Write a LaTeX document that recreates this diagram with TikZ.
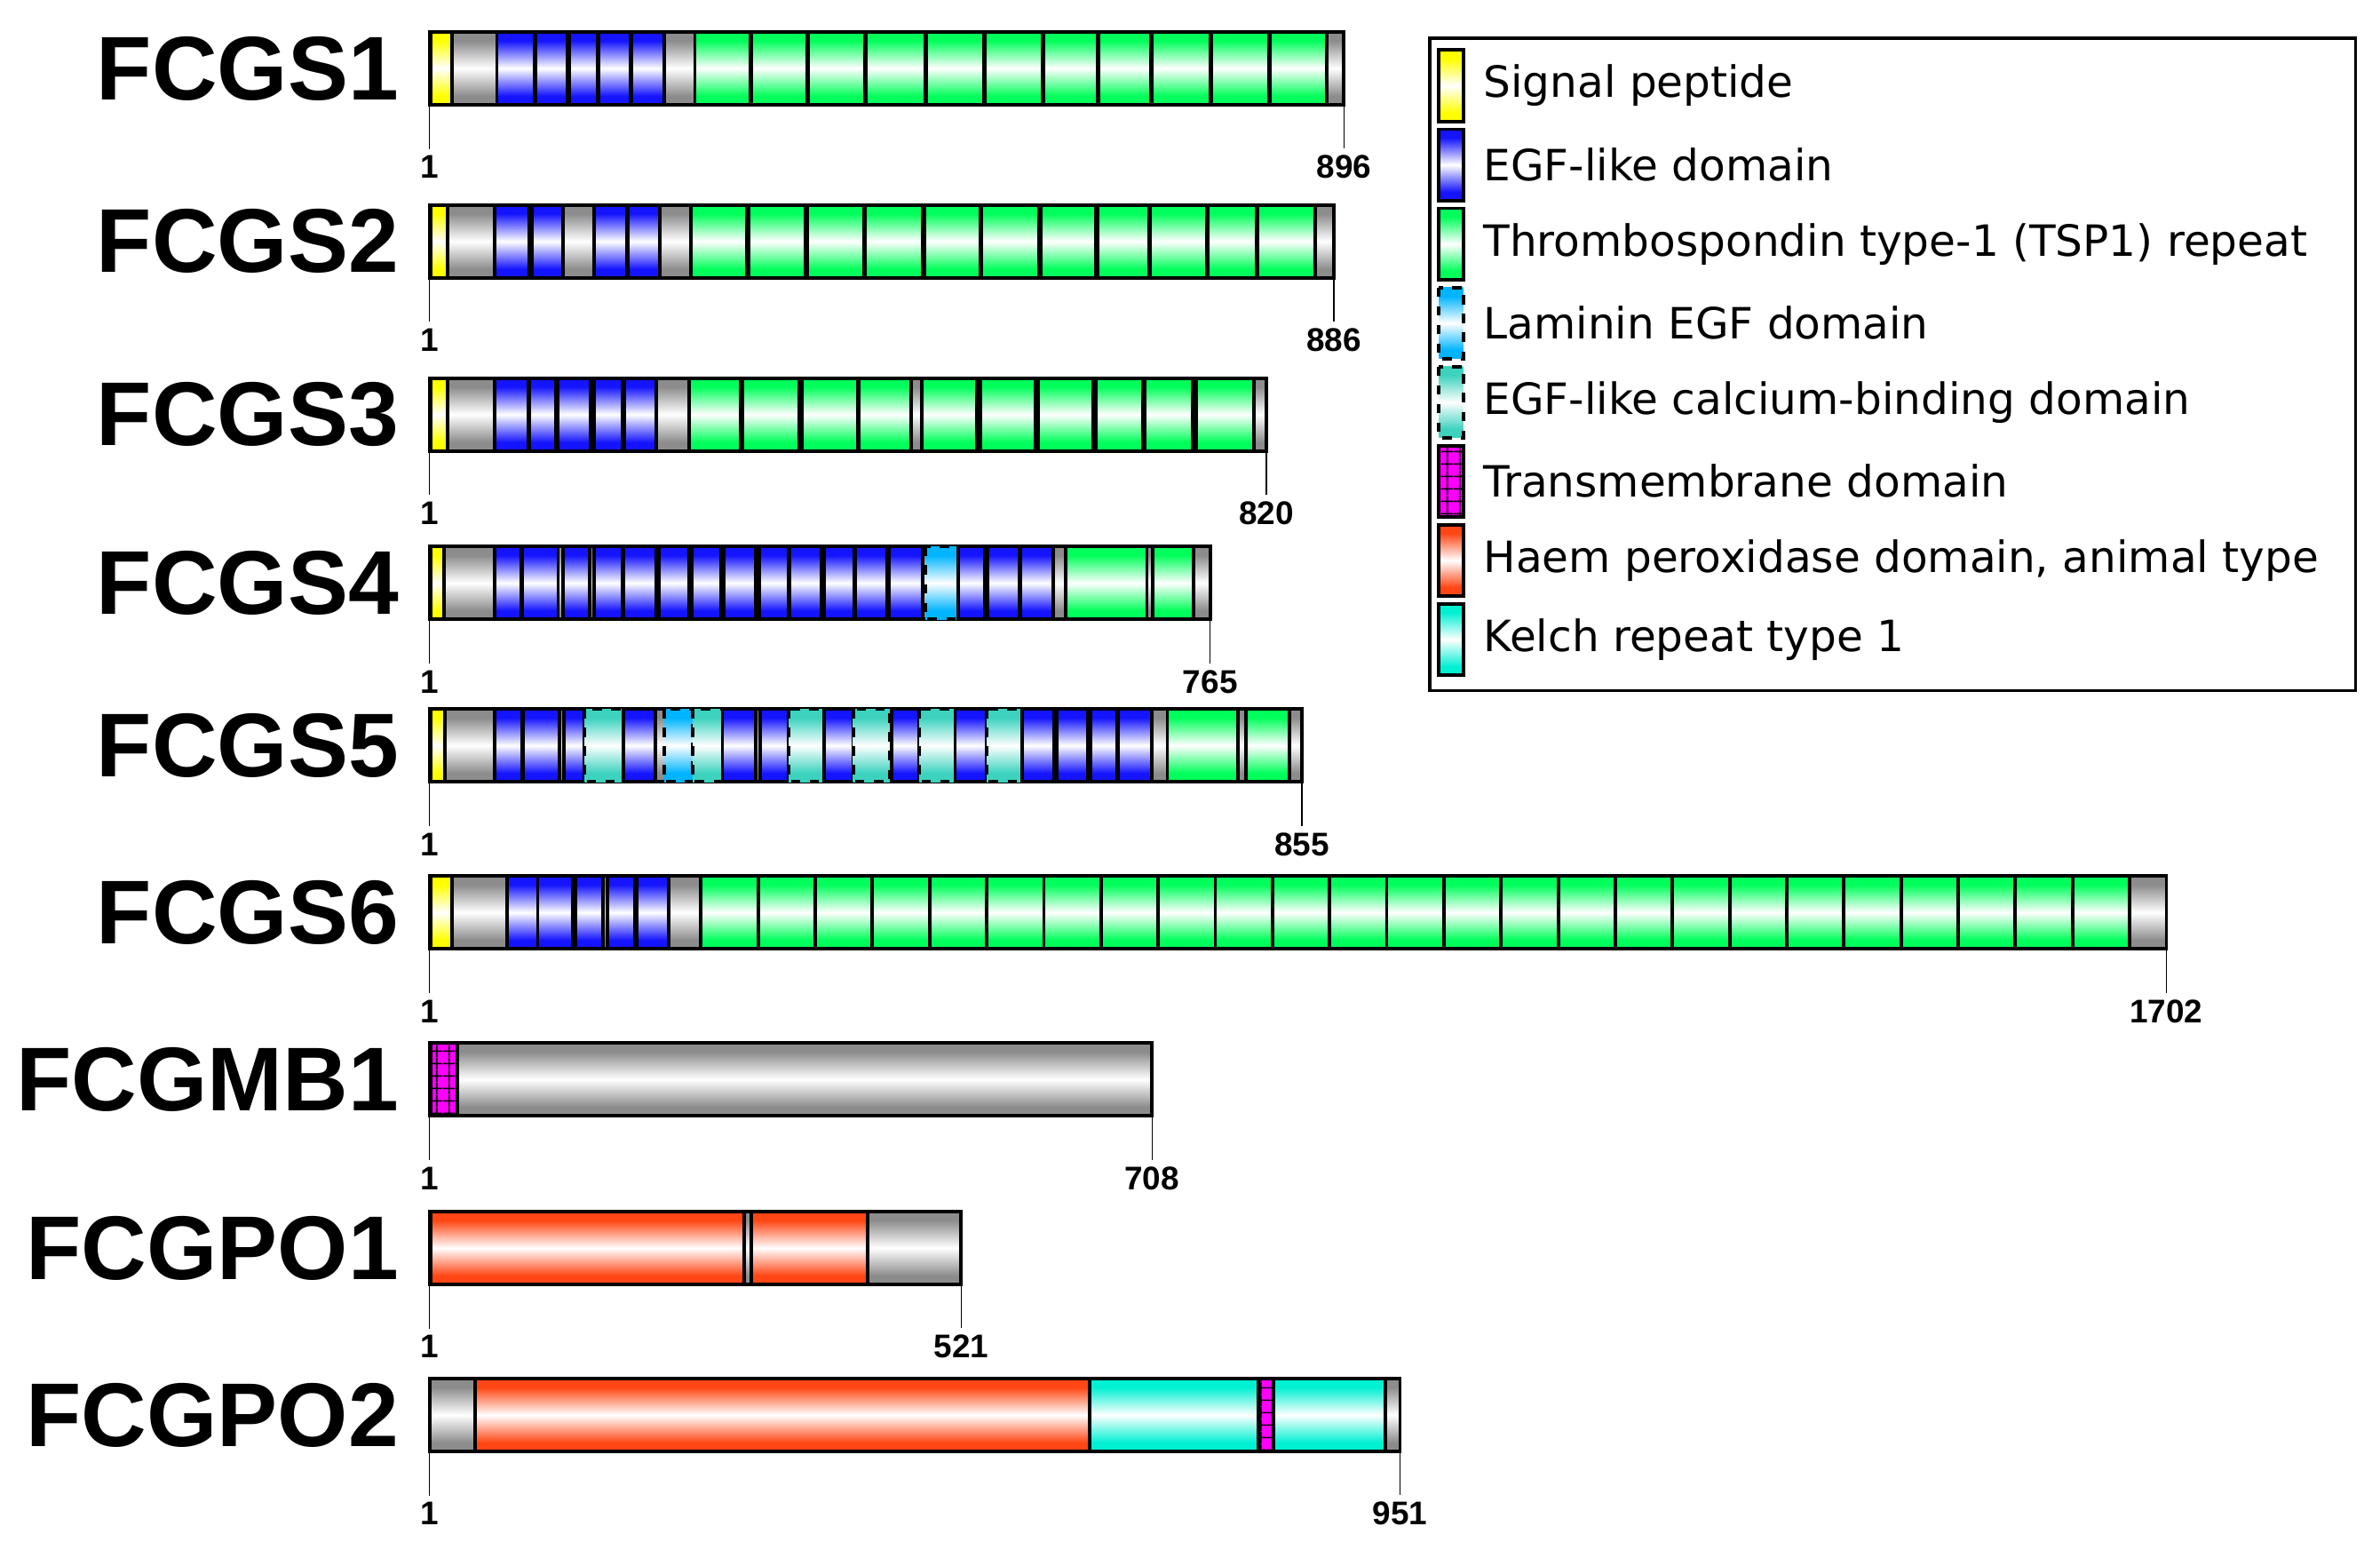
\documentclass[tikz,border=0pt]{standalone}
\usepackage{fontspec}
\setmainfont{Liberation Sans}
\newfontfamily\legendfont{DejaVu Sans}
\usetikzlibrary{positioning,patterns.meta}

\definecolor{bbcol}{RGB}{140,140,140}
\definecolor{sigcol}{RGB}{255,255,0}
\definecolor{egfcol}{RGB}{20,20,255}
\definecolor{tspcol}{RGB}{0,255,90}
\definecolor{lamcol}{RGB}{0,180,255}
\definecolor{egfcacol}{RGB}{60,210,190}
\definecolor{tmcol}{RGB}{255,0,255}
\definecolor{haemcol}{RGB}{255,70,20}
\definecolor{kelchcol}{RGB}{0,240,210}
\colorlet{tubecol}{bbcol}

% colour at top and bottom, white in the middle
\pgfdeclareverticalshading[tubecol]{tube}{100bp}{color(0bp)=(tubecol);
  color(31bp)=(tubecol); color(50bp)=(white); color(69bp)=(tubecol);
  color(100bp)=(tubecol)}

\tikzset{
  tube/.style={/utils/exec={\colorlet{tubecol}{#1}}, shading=tube,
    draw=black, line width=1.1pt},
  backbone/.style={tube=bbcol, line width=1.1pt},
  sig/.style={tube=sigcol},
  egf/.style={tube=egfcol},
  tsp/.style={tube=tspcol},
  lam/.style={tube=lamcol, dashed},
  egfca/.style={tube=egfcacol, dashed},
  tm/.style={fill=tmcol, draw=black, line width=1.1pt,
    postaction={pattern={Hatch[distance=4pt, line width=0.5pt]}}},
  haem/.style={tube=haemcol},
  kelch/.style={tube=kelchcol},
  protname/.style={anchor=east, inner sep=0pt,
    font=\fontsize{29}{29}\selectfont\bfseries},
  resnum/.style={inner sep=2pt, font=\fontsize{10.5}{11}\selectfont\bfseries},
  legtext/.style={anchor=west, inner sep=0pt,
    font=\legendfont\fontsize{13.8}{14}\selectfont},
}

% #1 name, #2 row centre, #3 length, #4 kind/from/to list
\newcommand\protein[4]{%
  \node[protname] (n#1) at (263,#2) {#1};
  \begin{scope}[shift={(283,#2)}, x=0.011487cm]
    \draw[backbone] (0,-24) rectangle (#3,24);
    \foreach \kind/\from/\to in {#4} {
      \draw[\kind] (\from,-24) rectangle (\to,24);
    }
    \coordinate (s#1) at (0,24);
    \coordinate (e#1) at (#3,24);
    \node[resnum] (a#1) at (0,65) {1};
    \node[resnum] (b#1) at (#3,65) {#3};
    \draw[thin] (s#1) -- (a#1.north);
    \draw[thin] (e#1) -- (b#1.north);
  \end{scope}
}

\begin{document}
\begin{tikzpicture}[x=0.01709cm, y=-0.01709cm]
  \useasboundingbox (0,0) rectangle (1568,1020.5);

  \protein{FCGS1}{45}{896}{sig/1/22, egf/66/103, egf/104/135, egf/137/165,
    egf/166/197, egf/198/230, tsp/260/314, tsp/315/370, tsp/371/427,
    tsp/428/486, tsp/487/543, tsp/544/601, tsp/602/655, tsp/656/707,
    tsp/708/765, tsp/766/823, tsp/824/879}
  \protein{FCGS2}{159}{886}{sig/1/18, egf/64/98, egf/100/131, egf/161/193,
    egf/194/226, tsp/256/311, tsp/313/368, tsp/370/426, tsp/427/483,
    tsp/485/540, tsp/541/597, tsp/599/653, tsp/655/705, tsp/706/762,
    tsp/763/810, tsp/811/868}
  \protein{FCGS3}{273}{820}{sig/1/18, egf/64/97, egf/98/124, egf/126/158,
    egf/161/189, egf/191/222, tsp/254/305, tsp/307/362, tsp/365/420,
    tsp/421/472, tsp/482/536, tsp/540/594, tsp/596/650, tsp/653/699,
    tsp/701/748, tsp/751/808}
  \protein{FCGS4}{384}{765}{sig/1/14, egf/64/90, egf/91/126, egf/131/157,
    egf/161/189, egf/190/222, egf/225/254, egf/257/286, egf/288/320,
    egf/323/352, egf/353/384, egf/387/416, egf/417/448, egf/450/483,
    lam/486/518, egf/518/544, egf/547/578, egf/579/611, tsp/623/703,
    tsp/709/749}
  \protein{FCGS5}{491}{855}{sig/1/15, egf/64/91, egf/92/127, egf/132/152,
    egfca/152/190, egf/190/221, lam/230/258, egfca/258/287, egf/287/320,
    egf/324/352, egfca/352/387, egf/387/415, egfca/415/451, egf/453/480,
    egfca/480/515, egf/515/546, egfca/546/581, egf/581/612, egf/615/645,
    egf/648/674, egf/675/708, tsp/723/792, tsp/800/843}
  \protein{FCGS6}{601}{1702}{sig/1/22, egf/76/106, egf/106/140,
    egf/143/170, egf/174/201, egf/203/234}
  \begin{scope}[shift={(283,601)}, x=0.011487cm]
    \foreach \k in {0,...,24}
      \draw[tsp] ({266+56*\k},-24) rectangle ({322+56*\k},24);
  \end{scope}
  \protein{FCGMB1}{711}{708}{tm/1/27}
  \protein{FCGPO1}{822}{521}{haem/1/308, haem/315/429}
  \protein{FCGPO2}{932}{951}{haem/45/647, kelch/647/812, tm/812/827,
    kelch/827/937}

  % legend
  \draw[line width=1pt] (942,25) rectangle (1552,455);
  \foreach \kind/\label [count=\i] in {
      sig/Signal peptide,
      egf/EGF-like domain,
      tsp/Thrombospondin type-1 (TSP1) repeat,
      lam/Laminin EGF domain,
      egfca/EGF-like calcium-binding domain,
      tm/Transmembrane domain,
      haem/{Haem peroxidase domain, animal type},
      kelch/Kelch repeat type 1
    } {
      \pgfmathsetmacro\yc{56.5+(\i-1)*52.1}
      \draw[\kind] (948,\yc-23.5) rectangle (964,\yc+23.5);
      \node[legtext] (leg\i) at (977,\yc) {\label};
    };
\end{tikzpicture}
\end{document}
